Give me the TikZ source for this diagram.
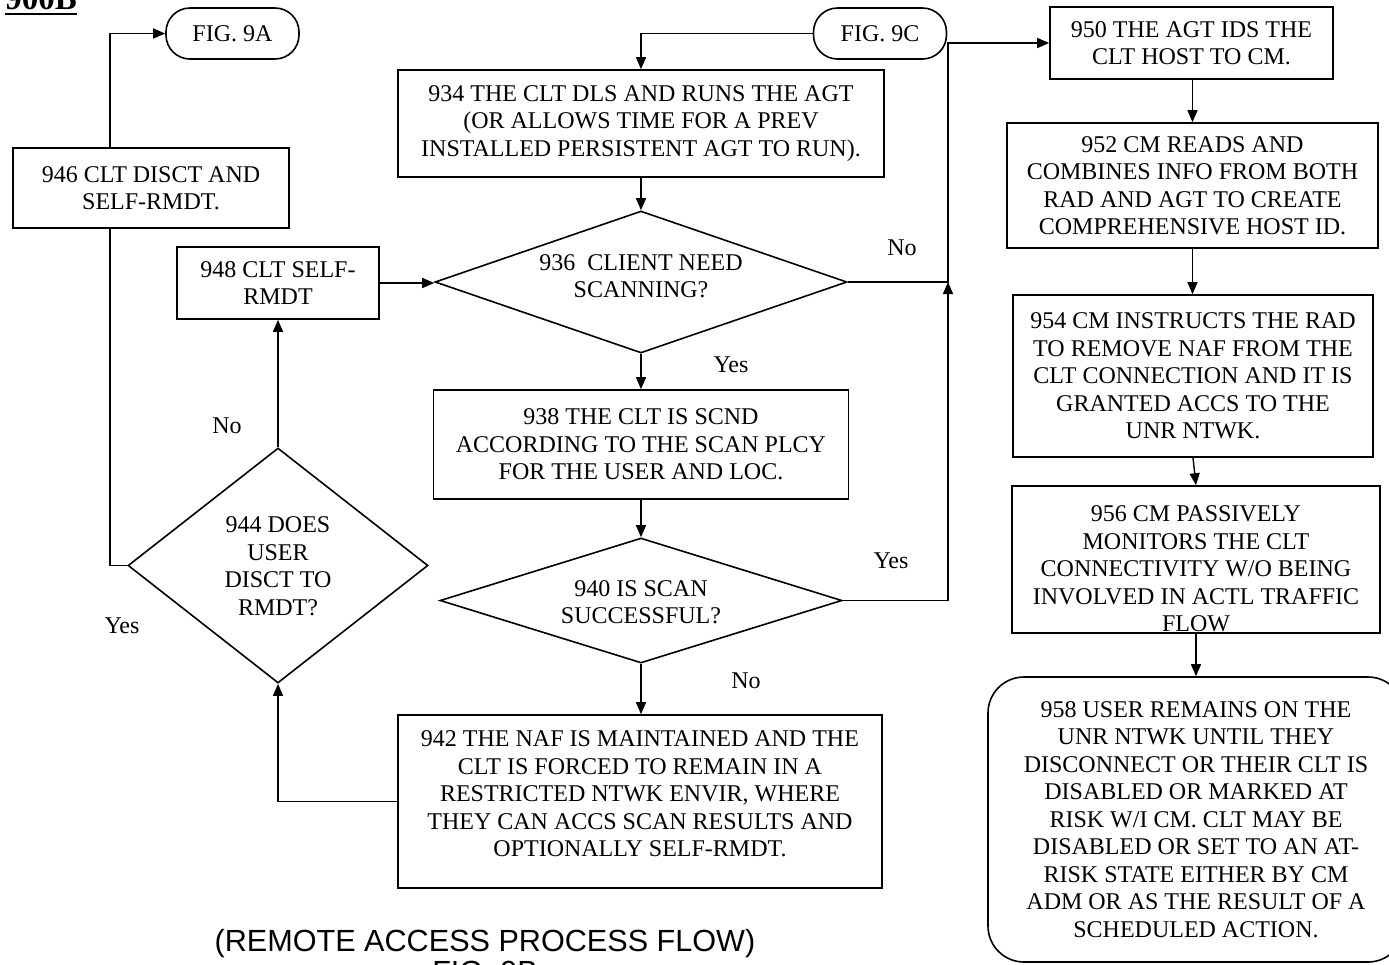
\documentclass[tikz,border=0pt]{standalone}
\usepackage{fontspec}
\setmainfont{Liberation Serif}
\newfontfamily\titlefont{Liberation Sans}
\usetikzlibrary{shapes.geometric,arrows.meta}

\begin{document}
\begin{tikzpicture}[x=0.5pt,y=-0.5pt,
  box/.style={draw, line width=0.8pt, rectangle, inner sep=0pt},
  term/.style={draw, line width=0.8pt, rounded corners=12pt, minimum width=66.5pt, minimum height=25.5pt, inner sep=0pt},
  dia/.style={draw, line width=0.8pt, diamond, inner sep=0pt},
  txt/.style={align=center, font=\fontsize{12}{13.75}\selectfont, inner sep=0pt},
  lbl/.style={font=\fontsize{12}{13.75}\selectfont, inner sep=0pt},
  ttl/.style={inner sep=0pt, font=\titlefont\fontsize{15.3}{18}\selectfont},
  flow/.style={line width=0.7pt, -{Triangle[length=6pt,width=5pt]}},
  wire/.style={line width=0.7pt}]

\clip (0,0) rectangle (1389,965);

% sheet number
\node[anchor=base west, inner sep=0pt, font=\bfseries\fontsize{16.5}{18}\selectfont] (sheet) at (5,9) {900B};
\draw[line width=1.1pt] ([yshift=-2.5pt]sheet.base west) -- ([yshift=-2.5pt]sheet.base east);

% off-page connectors
\node[term, txt] (fig9a) at (232.5,33.5) {FIG. 9A};
\node[term, txt] (fig9c) at (880,33.5) {FIG. 9C};

% left column
\node[box, txt, minimum width=138pt, minimum height=40pt] (b946) at (151,188) {946 CLT DISCT AND\\SELF-RMDT.};
\node[box, txt, minimum width=101pt, minimum height=36pt] (b948) at (278,283) {948 CLT SELF-\\RMDT};
\node[dia, minimum width=150pt, minimum height=117.5pt] (d944) at (278,565.5) {};
\node[txt] (t944) at (278,566) {944 DOES\\USER\\DISCT TO\\RMDT?};

% centre column
\node[box, txt, minimum width=243pt, minimum height=53.5pt] (b934) at (641,123.5) {934 THE CLT DLS AND RUNS THE AGT\\(OR ALLOWS TIME FOR A PREV\\INSTALLED PERSISTENT AGT TO RUN).};
\node[dia, minimum width=206pt, minimum height=71pt] (d936) at (641,282) {};
\node[txt] (t936) at (641,276) {936\ \ CLIENT NEED\\SCANNING?};
\node[box, txt, minimum width=207.5pt, minimum height=54.5pt] (b938) at (641,444.5) {938 THE CLT IS SCND\\ACCORDING TO THE SCAN PLCY\\FOR THE USER AND LOC.};
\node[dia, minimum width=201pt, minimum height=62.5pt] (d940) at (641,600.5) {};
\node[txt] (t940) at (641,602) {940 IS SCAN\\SUCCESSFUL?};
\node[box, minimum width=242pt, minimum height=86.5pt] (b942) at (640,801.5) {};
\node[txt] (t942) at (640,794) {942 THE NAF IS MAINTAINED AND THE\\CLT IS FORCED TO REMAIN IN A\\RESTRICTED NTWK ENVIR, WHERE\\THEY CAN ACCS SCAN RESULTS AND\\OPTIONALLY SELF-RMDT.};

% right column
\node[box, txt, minimum width=141.5pt, minimum height=36pt] (b950) at (1191.5,43) {950 THE AGT IDS THE\\CLT HOST TO CM.};
\node[box, txt, minimum width=185.5pt, minimum height=62.5pt] (b952) at (1192.5,185.5) {952 CM READS AND\\COMBINES INFO FROM BOTH\\RAD AND AGT TO CREATE\\COMPREHENSIVE HOST ID.};
\node[box, txt, minimum width=180pt, minimum height=81pt] (b954) at (1193,376) {954 CM INSTRUCTS THE RAD\\TO REMOVE NAF FROM THE\\CLT CONNECTION AND IT IS\\GRANTED ACCS TO THE\\UNR NTWK.};
\node[box, minimum width=184pt, minimum height=73.5pt] (b956) at (1196,559.5) {};
\begin{scope}
  \clip (b956.south west) rectangle (b956.north east);
  \node[txt] (t956) at (1196,569) {956 CM PASSIVELY\\MONITORS THE CLT\\CONNECTIVITY W/O BEING\\INVOLVED IN ACTL TRAFFIC\\FLOW};
\end{scope}
\node[box, txt, rounded corners=18pt, minimum width=208pt, minimum height=142.5pt] (b958) at (1196,819.5) {958 USER REMAINS ON THE\\UNR NTWK UNTIL THEY\\DISCONNECT OR THEIR CLT IS\\DISABLED OR MARKED AT\\RISK W/I CM. CLT MAY BE\\DISABLED OR SET TO AN AT-\\RISK STATE EITHER BY CM\\ADM OR AS THE RESULT OF A\\SCHEDULED ACTION.};

% connectors
\coordinate (k944) at (110,565.5);
\draw[wire] (d944.west) -- (k944) -- (k944 |- b946.south);
\draw[flow] (k944 |- b946.north) |- (fig9a.west);
\draw[flow] (d944.north) -- (b948.south);
\draw[flow] (b948.east) -- (b948.east -| d936.west);
\draw[flow] (b942.west) -| (d944.south);
\draw[flow] (fig9c.west) -| (b934.north);
\draw[flow] (b934.south) -- (d936.north);
\draw[flow] (d936.south) -- (b938.north);
\draw[flow] (b938.south) -- (d940.north);
\draw[flow] (d940.south) -- (d940.south |- b942.north);
\coordinate (k950) at (948,43);
\draw[flow] (d936.east) -| (k950) -- (b950.west);
\draw[flow] (d940.east) -| (d936.east -| k950);
\draw[flow] (b950.south -| b952.north) -- (b952.north);
\draw[flow] (b952.south) -- (b952.south |- b954.north);
\draw[flow] (b954.south) -- (b956.north);
\draw[flow] (b956.south) -- (b958.north);

% branch labels
\node[lbl] (lno1) at (902,248) {No};
\node[lbl] (lyes1) at (731,365) {Yes};
\node[lbl] (lyes2) at (891,561) {Yes};
\node[lbl] (lno2) at (746,681) {No};
\node[lbl] (lno3) at (227,426) {No};
\node[lbl] (lyes3) at (122,626) {Yes};

% caption
\node[ttl, anchor=base] (title) at (485,951) {(REMOTE ACCESS PROCESS FLOW)};
\node[ttl, anchor=north] (figno) at (485,961) {FIG. 9B};
\end{tikzpicture}
\end{document}
